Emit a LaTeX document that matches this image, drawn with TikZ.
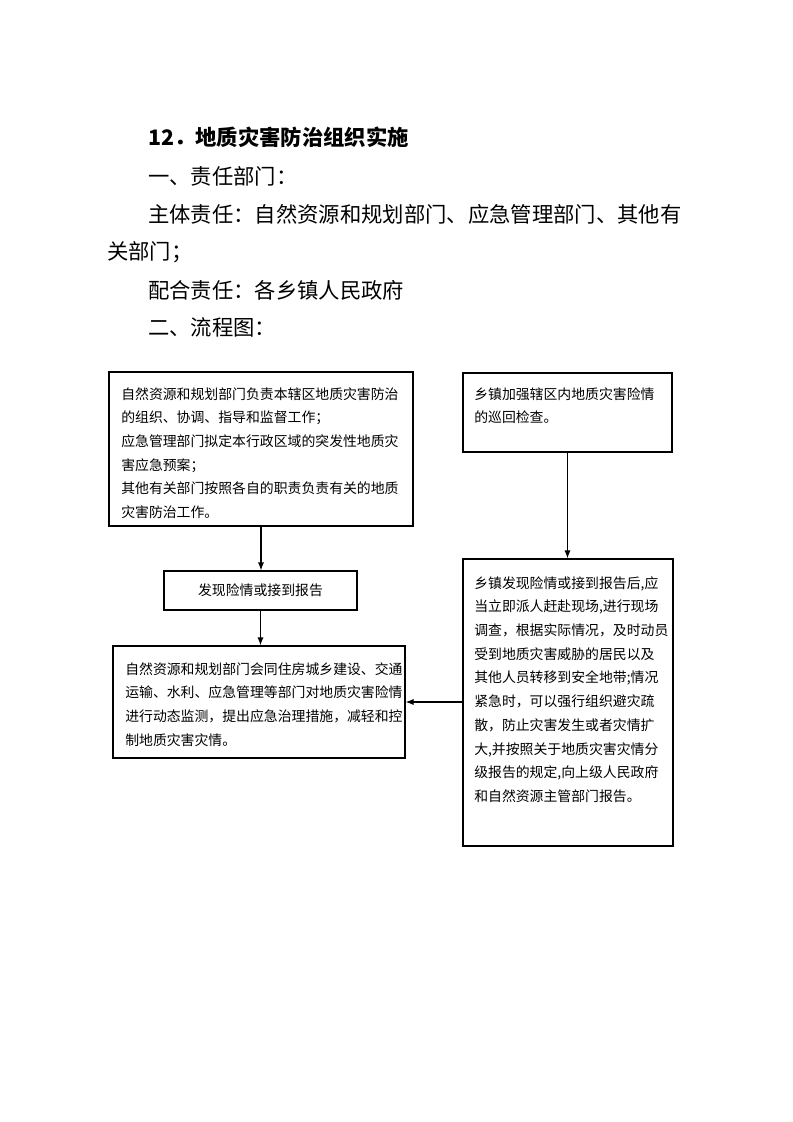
\documentclass[tikz,border=0pt]{standalone}
\usepackage{fontspec}
\newfontfamily\cjk{Noto Sans CJK SC}
\usetikzlibrary{arrows.meta,fit}
\newcommand\myboxfont{\cjk\fontsize{10.4pt}{17.8pt}\selectfont}
\newcommand\myheadfont{\cjk\fontsize{16pt}{20pt}\selectfont}
\begin{document}
\begin{tikzpicture}[x=0.75pt,y=-0.75pt,
  box/.style={draw,line width=0.8pt,inner sep=0pt},
  txt/.style={anchor=north west,inner sep=0pt,align=left,font=\myboxfont},
  head/.style={anchor=west,inner sep=0pt,font=\myheadfont},
  arr/.style={-{Latex[length=6pt,width=4.5pt]},line width=0.8pt}]
\fill[white] (0,0) rectangle (793,1122);
\useasboundingbox (0,0) rectangle (793,1122);

% heading text
\node[head,font=\myheadfont\bfseries] (h1) at (148,137) {12．地质灾害防治组织实施};
\node[head] (h2) at (148,176) {一、责任部门：};
\node[head] (h3) at (148,214) {主体责任：自然资源和规划部门、应急管理部门、其他有};
\node[head] (h4) at (107,252) {关部门；};
\node[head] (h5) at (148,290) {配合责任：各乡镇人民政府};
\node[head] (h6) at (148,327) {二、流程图：};

% boxes
\node[box,fit={(109,372)(413,526)}] (A) {};
\node[box,fit={(463,373)(672,452)}] (B) {};
\node[box,fit={(164,571)(357,610)}] (C) {};
\node[box,fit={(113,646)(405,758)}] (D) {};
\node[box,fit={(463,559)(673,846)}] (E) {};

% texts
\node[txt] (tA) at (121,387) {自然资源和规划部门负责本辖区地质灾害防治\\
的组织、协调、指导和监督工作；\\
应急管理部门拟定本行政区域的突发性地质灾\\
害应急预案；\\
其他有关部门按照各自的职责负责有关的地质\\
灾害防治工作。};
\node[txt] (tB) at (474,387) {乡镇加强辖区内地质灾害险情\\
的巡回检查。};
\node[inner sep=0pt,font=\myboxfont] (tC) at (C.center) {发现险情或接到报告};
\node[txt] (tD) at (125,662) {自然资源和规划部门会同住房城乡建设、交通\\
运输、水利、应急管理等部门对地质灾害险情\\
进行动态监测，提出应急治理措施，减轻和控\\
制地质灾害灾情。};
\node[txt] (tE) at (474,576) {乡镇发现险情或接到报告后,应\\
当立即派人赶赴现场,进行现场\\
调查，根据实际情况，及时动员\\
受到地质灾害威胁的居民以及\\
其他人员转移到安全地带;情况\\
紧急时，可以强行组织避灾疏\\
散，防止灾害发生或者灾情扩\\
大,并按照关于地质灾害灾情分\\
级报告的规定,向上级人民政府\\
和自然资源主管部门报告。};

% connectors
\draw[arr] (A.south) -- (A.south |- C.north);
\draw[arr] (C.south) -- (C.south |- D.north);
\draw[arr] (B.south) -- (B.south |- E.north);
\draw[arr] (E.west |- D.east) -- (D.east);
\end{tikzpicture}
\end{document}
